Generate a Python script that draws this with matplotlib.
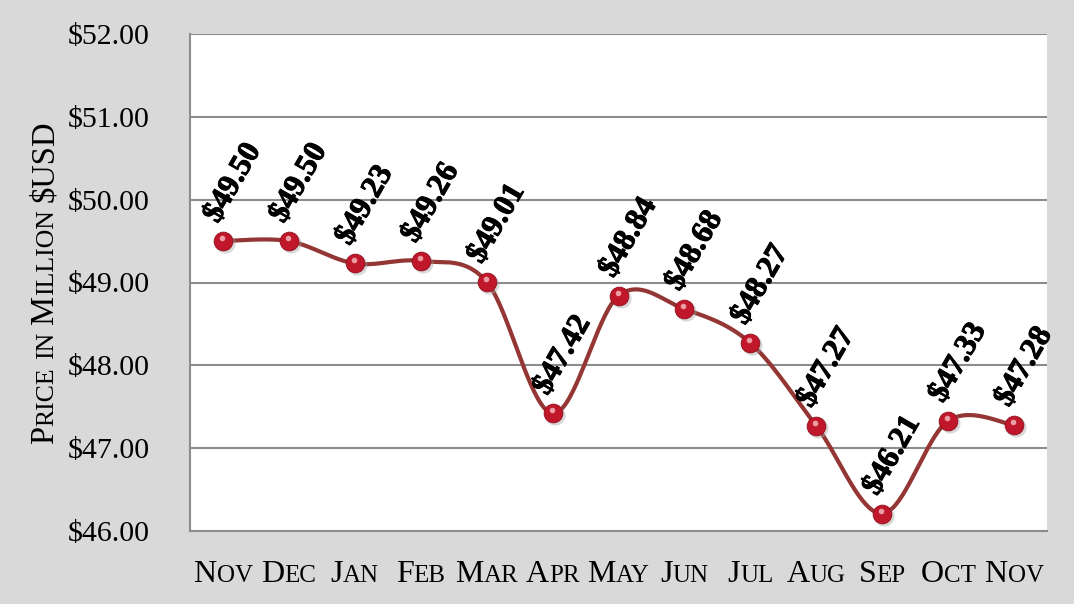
import numpy as np
import matplotlib.pyplot as plt
import matplotlib.patheffects as pe
from matplotlib.transforms import offset_copy, blended_transform_factory

months = ['Nov', 'Dec', 'Jan', 'Feb', 'Mar', 'Apr', 'May', 'Jun', 'Jul', 'Aug', 'Sep', 'Oct', 'Nov']
prices = [49.50, 49.50, 49.23, 49.26, 49.01, 47.42, 48.84, 48.68, 48.27, 47.27, 46.21, 47.33, 47.28]
y_ticks = [46, 47, 48, 49, 50, 51, 52]
y_title = 'Price in Million $USD'

plt.rcParams['font.family'] = ['Liberation Serif', 'DejaVu Serif']

W, H = 1074, 604
fig = plt.figure(figsize=(W / 100, H / 100), dpi=100)
fig.patch.set_facecolor('#d9d9d9')
ax = fig.add_axes([190 / W, 1 - 531 / H, 857 / W, 497 / H])
ax.set_facecolor('white')

x = np.arange(len(prices))
y = np.array(prices)


# excel style smoothed line (catmull-rom through the points)
def smooth(xv, yv, n=40):
    pts = np.column_stack([xv, yv]).astype(float)
    out = []
    for i in range(len(pts) - 1):
        p0 = pts[i - 1] if i > 0 else pts[i]
        p1, p2 = pts[i], pts[i + 1]
        p3 = pts[i + 2] if i + 2 < len(pts) else pts[i + 1]
        t = np.linspace(0, 1, n)[:, None]
        c = 0.5 * (2 * p1 + (p2 - p0) * t + (2 * p0 - 5 * p1 + 4 * p2 - p3) * t ** 2
                   + (-p0 + 3 * p1 - 3 * p2 + p3) * t ** 3)
        out.append(c)
    c = np.vstack(out)
    return c[:, 0], c[:, 1]


sx, sy = smooth(x, y)
ax.plot(sx, sy, color='#943634', lw=3, zorder=3, solid_capstyle='round')

# markers: shadow, ball, highlight
shadow = offset_copy(ax.transData, fig=fig, x=2, y=-2, units='dots')
ax.plot(x, y, 'o', ms=14.5, color='#a0a0a0', alpha=0.4, mec='none', transform=shadow, zorder=4)
ax.plot(x, y, 'o', ms=13.5, color='#c0182a', mec='#8e0f1c', mew=0.6, zorder=5)
hi = offset_copy(ax.transData, fig=fig, x=-1, y=3, units='dots')
ax.plot(x, y, 'o', ms=4, color='#f4b6bc', alpha=0.85, mec='none', transform=hi, zorder=6)

# data labels (a thin stroke to get the heavy bold look)
for i, v in enumerate(prices):
    ax.annotate(f'${v:.2f}', (x[i], v), xytext=(10, 58), textcoords='offset pixels',
                ha='center', va='center', rotation=60, fontsize=22.5, fontweight='bold',
                zorder=7, path_effects=[pe.withStroke(linewidth=0.7, foreground='black')])

ax.set_xlim(-0.5, len(prices) - 0.5)
ax.set_ylim(46, 52)
ax.set_yticks(y_ticks)
ax.set_yticklabels([f'${t:.2f}' for t in y_ticks], fontsize=21.5)
ax.set_xticks(x)
ax.set_xticklabels([])
ax.tick_params(length=0)
ax.tick_params(axis='y', pad=29)
ax.yaxis.grid(True, color='#8c8c8c', lw=1.5)
ax.set_axisbelow(True)
for s in ['top', 'right']:
    ax.spines[s].set_visible(False)
for s in ['left', 'bottom']:
    ax.spines[s].set_color('#8c8c8c')
    ax.spines[s].set_linewidth(1.5)

renderer = fig.canvas.get_renderer()


def text_width(s, size):
    t = fig.text(0, 0, s, fontsize=size)
    w = t.get_window_extent(renderer).width
    t.remove()
    return w


# small caps text made of pieces (big first letters, small upper case rest)
def small_caps(s, px, py, trans, big=23, small=18, rotation=0):
    runs = []
    for ch in s:
        if ch == ' ':
            runs.append(['', small, 0.3 * small * fig.dpi / 72])
            continue
        size = big if (ch.isupper() or not ch.isalpha()) else small
        if runs and runs[-1][0] and runs[-1][1] == size:
            runs[-1][0] += ch.upper()
        else:
            runs.append([ch.upper(), size, 0])
    for r in runs:
        if r[0]:
            r[2] = text_width(r[0], r[1])
    total = sum(r[2] for r in runs)
    pos = -total / 2
    for txt, size, w in runs:
        if txt:
            dx, dy = (pos, 0) if rotation == 0 else (0, pos)
            tr = offset_copy(trans, fig=fig, x=dx, y=dy, units='dots')
            fig.text(px, py, txt, fontsize=size, transform=tr, ha='left', va='baseline',
                     rotation=rotation, rotation_mode='anchor')
        pos += w


xtrans = offset_copy(blended_transform_factory(ax.transData, ax.transAxes), fig=fig,
                     x=0, y=-51, units='dots')
for i, m in enumerate(months):
    small_caps(m, x[i], 0, xtrans)

small_caps(y_title, 53 / W, 1 - 282 / H, fig.transFigure, big=23.5, small=18.5, rotation=90)

fig.savefig('out.png', dpi=100, facecolor=fig.get_facecolor())
